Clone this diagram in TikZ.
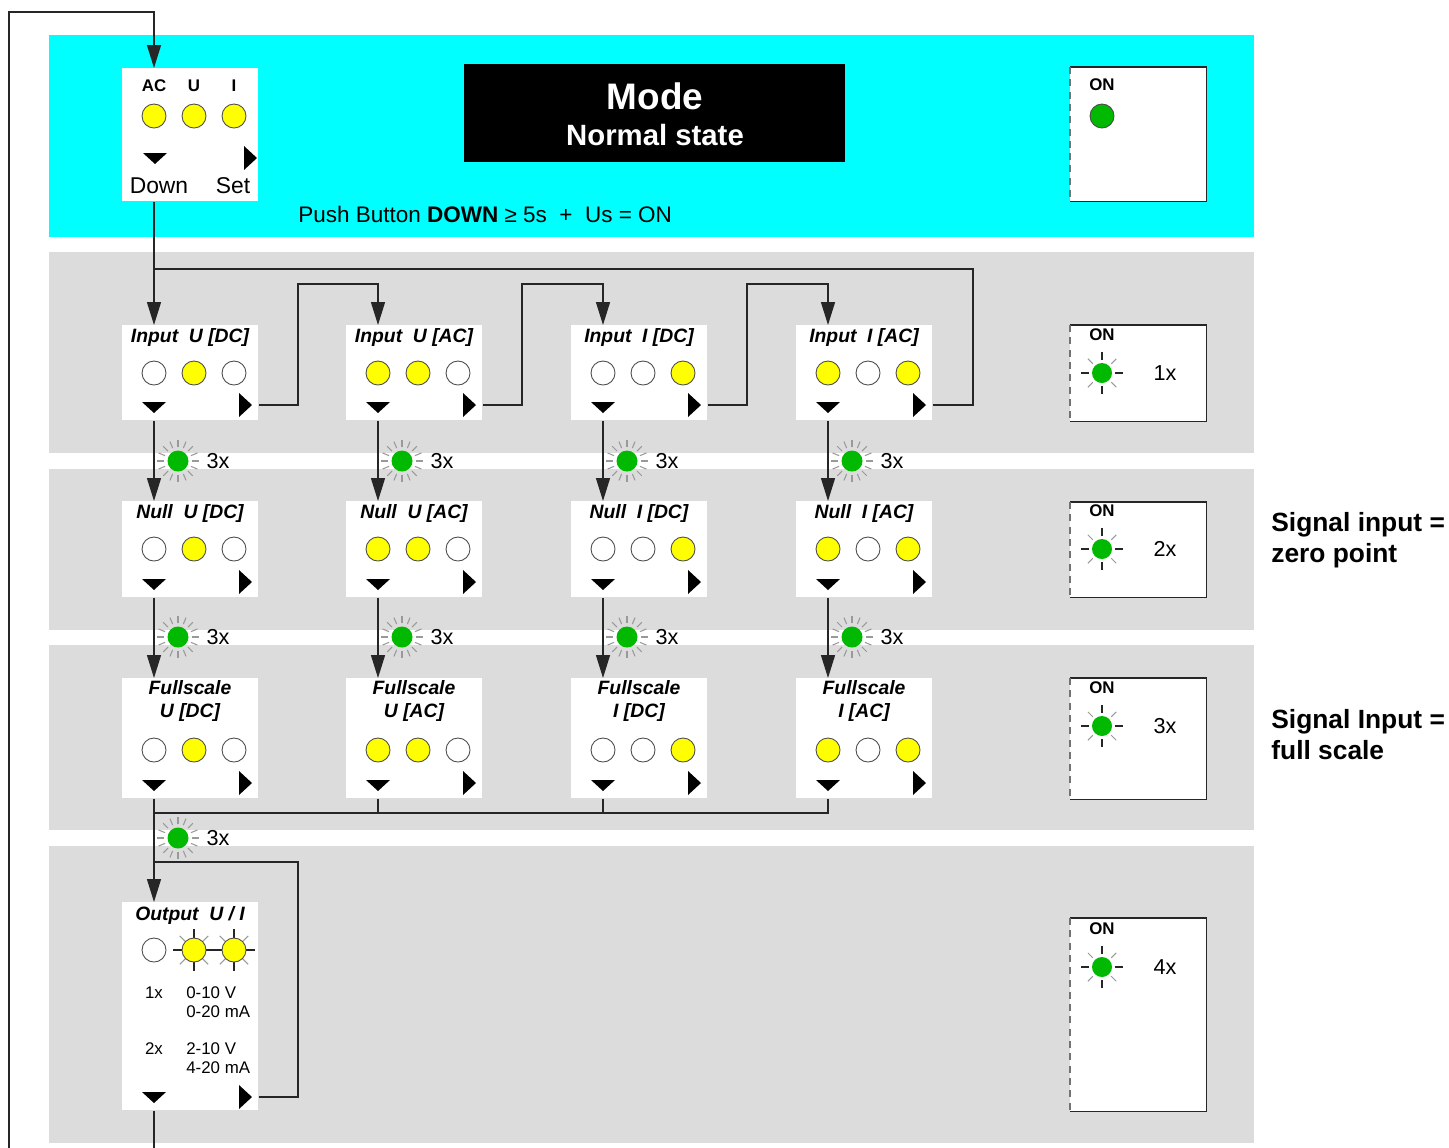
\documentclass[tikz,border=0pt]{standalone}
\usepackage{fontspec}
\setmainfont{Liberation Sans}
\usetikzlibrary{arrows.meta,positioning,calc}

\definecolor{bandcyan}{RGB}{0,255,255}
\definecolor{bandgrey}{RGB}{220,220,220}
\definecolor{ledyel}{RGB}{255,255,0}
\definecolor{ledgrn}{RGB}{0,185,0}

\begin{document}
\begin{tikzpicture}[
  x=0.02cm, y=-0.02cm,
  modebox/.style={fill=white, inner sep=0pt, minimum width=2.72cm, anchor=north west},
  onbox/.style={fill=white, inner sep=0pt, minimum width=2.72cm, anchor=north west},
  tag/.style={font=\fontsize{11}{13}\selectfont\bfseries\itshape, align=center, inner sep=0pt},
  onlbl/.style={font=\fontsize{9.6}{11}\selectfont\bfseries, inner sep=0pt},
  btn/.style={font=\fontsize{13}{15}\selectfont, inner sep=0pt},
  cnt/.style={font=\fontsize{12.3}{14}\selectfont, inner sep=0pt},
  spec/.style={font=\fontsize{9.6}{10.8}\selectfont, inner sep=0pt, align=left},
  sidelbl/.style={font=\fontsize{15}{17.6}\selectfont\bfseries, inner sep=0pt, align=left, anchor=west},
  led/.style={circle, draw=black!70, line width=0.5pt, minimum size=0.48cm, inner sep=0pt},
  wire/.style={draw=black!85, line width=0.8pt},
  flow/.style={wire, -{Triangle[length=4.6mm,width=2.8mm]}},
  ray/.style={line width=0.6pt, draw=black!40},
  dntri/.pic={\fill (-12,-3) -- (12,-3) -- (0,8) -- cycle;},
  rttri/.pic={\fill (-6,-12) -- (-6,12) -- (7,0) -- cycle;},
  blink/.pic={
    \foreach \a in {0,22.5,...,337.5} \draw[ray] (\a:14) -- (\a:21);
    \fill[ledgrn] (0,0) circle (0.21cm);},
  onled/.pic={
    \foreach \a in {0,90,180,270} \draw[ray, draw=black!85] (\a:13) -- (\a:21);
    \foreach \a in {45,135,225,315} \draw[ray] (\a:13) -- (\a:20);
    \fill[ledgrn] (0,0) circle (0.2cm);},
  flash/.pic={
    \foreach \a in {0,90,180,270} \draw[ray, draw=black!85] (\a:12) -- (\a:21);
    \foreach \a in {45,135,225,315} \draw[ray] (\a:12) -- (\a:20);}
]
  \useasboundingbox (0,0) rectangle (1449,1147);

  % bands
  \fill[bandcyan] (49,35) rectangle (1254,237);
  \foreach \t/\b in {252/453,469/630,645/830,846/1143}
    \fill[bandgrey] (49,\t) rectangle (1254,\b);

  % start box
  \node[modebox, minimum height=2.66cm] (top) at (122,68) {};
  \foreach \s/\xx in {AC/154,U/194,I/234}
    \node[onlbl] (top-\s) at (\xx,86) {\s};
  \foreach \xx [count=\k] in {154,194,234}
    \node[led, fill=ledyel] (top-l\k) at (\xx,116) {};
  \coordinate (top-dn) at (155,156);
  \coordinate (top-rt) at (250,158);
  \pic at (top-dn) {dntri};
  \pic at (top-rt) {rttri};
  \node[btn] (down) at (159,186) {Down};
  \node[btn] (set) at (233,186) {Set};

  \node[fill=black, inner sep=0pt, minimum width=7.62cm, minimum height=1.96cm, anchor=north west] (mode) at (464,64) {};
  \node[text=white, inner sep=0pt, font=\fontsize{21}{24}\selectfont\bfseries] (mode-a) at (655,96) {Mode};
  \node[text=white, inner sep=0pt, font=\fontsize{16.7}{20}\selectfont\bfseries] (mode-b) at (655,135) {Normal state};
  \node[btn, anchor=west, font=\fontsize{12.8}{15}\selectfont] (push) at (298,214)
    {Push Button \textbf{DOWN} ≥ 5s\ \ +\ \ Us = ON};

  % ON panels
  \foreach \n/\t/\h/\o in {1/67/2.68/85, 2/325/1.92/335, 3/502/1.9/511, 4/678/2.42/688, 5/918/3.86/929} {
    \node[onbox, minimum height=\h cm] (on\n) at (1070,\t) {};
    \draw[wire, line width=0.6pt] (on\n.north west) -- (on\n.north east) -- (on\n.south east) -- (on\n.south west);
    \draw[black!55, line width=0.8pt, dash pattern=on 4pt off 3pt] (on\n.north west) -- (on\n.south west);
    \node[onlbl] (on\n-t) at (1102,\o) {ON};
  }
  \node[led, fill=ledgrn] (on1-l) at (1102,116) {};
  \foreach \n/\y/\m in {2/373/1x, 3/549/2x, 4/726/3x, 5/967/4x} {
    \pic at (1102,\y) {onled};
    \node[cnt] (on\n-c) at (1165,\y) {\m};
  }

  \node[sidelbl] (zero) at (1271,540) {Signal input =\\zero point};
  \node[sidelbl] (full) at (1271,735) {Signal Input =\\full scale};

  % input / null / fullscale
  \foreach \c/\x/\q/\pat in {1/122/{U [DC]}/{white,ledyel,white}, 2/346/{U [AC]}/{ledyel,ledyel,white},
                             3/571/{I [DC]}/{white,white,ledyel}, 4/796/{I [AC]}/{ledyel,white,ledyel}} {
    \node[modebox, minimum height=1.9cm] (in\c) at (\x,325) {};
    \node[tag] (in\c-t) at (\x+68,337) {Input\ \ \q};
    \node[modebox, minimum height=1.92cm] (nu\c) at (\x,501) {};
    \node[tag] (nu\c-t) at (\x+68,513) {Null\ \ \q};
    \node[modebox, minimum height=2.4cm] (fs\c) at (\x,678) {};
    \node[tag] (fs\c-t) at (\x+68,701) {Fullscale\\\q};
    \foreach \r/\y in {in/373,nu/549,fs/750}
      \foreach \s [count=\k] in \pat
        \node[led, fill=\s] (\r\c-l\k) at (\x-8+40*\k,\y) {};
    \foreach \r/\y in {in/405,nu/582,fs/783} {
      \coordinate (\r\c-dn) at (\x+32,\y);
      \coordinate (\r\c-rt) at (\x+123,\y);
      \pic at (\r\c-dn) {dntri};
      \pic at (\r\c-rt) {rttri};
    }
    \coordinate (hop\c) at (\x+176,284);
    \draw[flow] (in\c.south -| in\c-dn) -- (nu\c.north -| in\c-dn);
    \draw[flow] (nu\c.south -| nu\c-dn) -- (fs\c.north -| nu\c-dn);
    \pic at (\x+56,461) {blink};
    \pic at (\x+56,637) {blink};
    \node[cnt] (bi\c) at (\x+96,461) {3x};
    \node[cnt] (bn\c) at (\x+96,637) {3x};
  }

  \draw[flow] (top.south -| in1-dn) -- (in1.north -| in1-dn);
  \foreach \c/\d in {1/2,2/3,3/4}
    \draw[flow] (in\c.east |- in\c-rt) -| (hop\c) -| (in\d.north -| in\d-dn);
  \coordinate (ret) at (973,269);
  \draw[wire] (in4.east |- in4-rt) -| (ret) -- (ret -| in1-dn);

  % output
  \node[modebox, minimum height=4.16cm] (out) at (122,902) {};
  \node[tag] (out-t) at (190,915) {Output\ \ U / I};
  \node[led, fill=white] (out-l1) at (154,950) {};
  \pic at (194,950) {flash};
  \pic at (234,950) {flash};
  \node[led, fill=ledyel] (out-l2) at (194,950) {};
  \node[led, fill=ledyel] (out-l3) at (234,950) {};
  \node[spec] (m1) at (154,993) {1x};
  \node[spec, anchor=west] (m1v) at (186,1002) {0-10 V\\0-20 mA};
  \node[spec] (m2) at (154,1049) {2x};
  \node[spec, anchor=west] (m2v) at (186,1058) {2-10 V\\4-20 mA};
  \coordinate (out-dn) at (154,1095);
  \coordinate (out-rt) at (245,1097);
  \pic at (out-dn) {dntri};
  \pic at (out-rt) {rttri};

  \coordinate (join) at (154,813);
  \foreach \c in {2,3,4}
    \draw[wire] (fs\c.south -| fs\c-dn) |- (join);
  \draw[flow] (fs1.south -| fs1-dn) -- (out.north -| fs1-dn);
  \pic at (178,838) {blink};
  \node[cnt] (bo1) at (218,838) {3x};

  \coordinate (back) at (298,862);
  \draw[wire] (out.east |- out-rt) -| (back) -- (back -| out-dn);
  \coordinate (outer) at (9,12);
  \draw[flow] (out.south -| out-dn) -- ++(0,60) -| (outer) -| (top.north -| in1-dn);
\end{tikzpicture}
\end{document}
